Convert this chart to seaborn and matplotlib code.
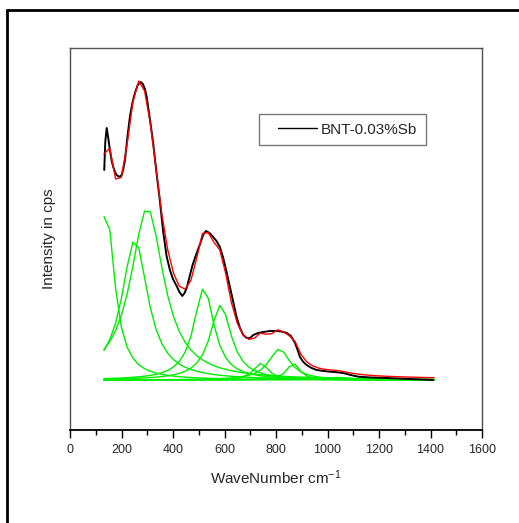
import numpy as np
import pandas as pd
import matplotlib
matplotlib.use("Agg")
import matplotlib.pyplot as plt
from matplotlib.lines import Line2D
from matplotlib.legend_handler import HandlerLine2D
from matplotlib.ticker import MultipleLocator, NullLocator
import seaborn as sns

# Measured Raman spectrum (wavenumber in cm^-1, intensity in arbitrary cps units)
measured_wn = [133, 137, 142.5, 148, 155, 162, 168, 175, 181, 191.5, 200.6, 207,
               213.6, 223, 233, 243, 252, 263, 274.6, 283, 291, 298, 304, 313,
               323.5, 336, 349.5, 362, 375, 388, 400, 414, 425, 436, 445, 453,
               466, 475, 485, 495, 505, 517, 528, 542, 556, 569, 582, 595, 608,
               621, 634, 647, 660, 673, 686, 699, 712, 730, 751, 777, 803, 822,
               842, 858, 874, 884, 893, 906, 919, 938, 958, 985, 1010, 1035,
               1061, 1090, 1120, 1170, 1231, 1300, 1410]
measured_int = [210, 238, 252, 243, 230, 219, 213, 208, 205, 203, 205, 211,
                220, 243, 264, 278, 287, 295, 298, 296, 291, 283, 272, 256,
                236, 207, 178, 148, 124, 110, 101, 94, 88, 84, 87, 92,
                105, 114, 122, 129, 136, 145, 149, 147, 143, 139, 133, 122, 108,
                93, 78, 63, 52, 45, 42, 42, 45, 47, 48, 49, 49, 48.5,
                47, 44, 37, 30, 23, 18, 15, 12, 10, 9, 8.3, 7.8,
                7, 5, 3.3, 2.5, 2, 1.2, 0]

# Fitted Lorentzian modes: centre (cm^-1), height, half width (cm^-1)
peak_centre = [140, 300, 252, 520, 585, 742, 813, 867, 1040]
peak_height = [170, 172, 140, 92, 75, 16.7, 31, 16.7, 2.5]
peak_hwhm = [40, 78, 62, 48, 50, 35, 50, 30, 60]

# Sampling grid of the fitted curves
fit_start, fit_stop, fit_count = 132, 1414, 58

legend_label = "BNT-0.03%Sb"
x_label = r"WaveNumber cm$^{-1}$"
y_label = "Intensity in cps"


def lorentzian(x, c, h, w):
    return h / (1.0 + ((x - c) / w) ** 2)


class InsetLineHandler(HandlerLine2D):
    """Legend line that leaves a little room before the sample stroke."""

    def create_artists(self, legend, orig_handle, xdescent, ydescent, width,
                       height, fontsize, trans):
        arts = super().create_artists(legend, orig_handle, xdescent, ydescent,
                                      width, height, fontsize, trans)
        line = arts[0]
        x = np.asarray(line.get_xdata(), float)
        lo, hi = x.min(), x.max()
        line.set_xdata(np.linspace(lo + 0.22 * (hi - lo), hi, len(x)))
        return arts


sns.set_style("white")
plt.rcParams["font.family"] = ["Liberation Sans", "DejaVu Sans"]
plt.rcParams["mathtext.fontset"] = "custom"
plt.rcParams["mathtext.rm"] = "Liberation Sans"
plt.rcParams["mathtext.it"] = "Liberation Sans:italic"
plt.rcParams["mathtext.default"] = "regular"

W, H = 519, 523
fig = plt.figure(figsize=(W / 100, H / 100), dpi=100)
ax = fig.add_axes([70 / W, 1 - 430 / H, 412 / W, 382 / H])

grid = np.linspace(fit_start, fit_stop, fit_count)
components = [lorentzian(grid, c, h, w) for c, h, w in zip(peak_centre, peak_height, peak_hwhm)]
fit_total = np.sum(components, axis=0)

for comp in components:
    sns.lineplot(x=grid, y=comp, color="#00ee00", lw=1.0, ax=ax, legend=False,
                 sort=False, estimator=None)

meas = pd.DataFrame({"wn": measured_wn, "intensity": measured_int})
sns.lineplot(data=meas, x="wn", y="intensity", color="black", lw=1.4, ax=ax,
             sort=False, estimator=None, label=legend_label)
sns.lineplot(x=grid, y=fit_total, color="#ff0000", lw=1.0, ax=ax, legend=False,
             sort=False, estimator=None)

ax.set_xlim(0, 1600)
ax.set_ylim(-50, 332)
ax.xaxis.set_major_locator(MultipleLocator(200))
ax.xaxis.set_minor_locator(MultipleLocator(100))
ax.yaxis.set_major_locator(NullLocator())
ax.tick_params(axis="x", which="major", direction="out", length=6, width=1,
               color="black", labelsize=9, pad=4, bottom=True)
ax.tick_params(axis="x", which="minor", direction="out", length=3.5, width=1,
               color="black", bottom=True)
ax.tick_params(axis="y", left=False, labelleft=False)

for side in ["left", "right", "top"]:
    ax.spines[side].set_color("#505050")
    ax.spines[side].set_linewidth(1.0)
ax.spines["bottom"].set_color("black")
ax.spines["bottom"].set_linewidth(1.3)

ax.set_xlabel(x_label, fontsize=11, labelpad=9)
ax.set_ylabel(y_label, fontsize=11, labelpad=10)

handles, labels = ax.get_legend_handles_labels()
leg = ax.legend(handles, labels, loc="upper left", bbox_to_anchor=(0.459, 0.827),
                frameon=True, fancybox=False, shadow=False, fontsize=11,
                handlelength=3.2, handletextpad=0.3, borderpad=0.56,
                borderaxespad=0, handler_map={Line2D: InsetLineHandler()})
leg.get_frame().set_edgecolor("#555555")
leg.get_frame().set_linewidth(1.0)
for ln in leg.get_lines():
    ln.set_linewidth(1.0)

# Page frame (left and top edges)
fig.add_artist(Line2D([7 / W, 7 / W], [0, 1 - 9.5 / H], color="black", lw=2,
                      transform=fig.transFigure))
fig.add_artist(Line2D([7 / W, 1], [1 - 9.5 / H, 1 - 9.5 / H], color="black", lw=2,
                      transform=fig.transFigure))

fig.savefig("out.png", dpi=100)
